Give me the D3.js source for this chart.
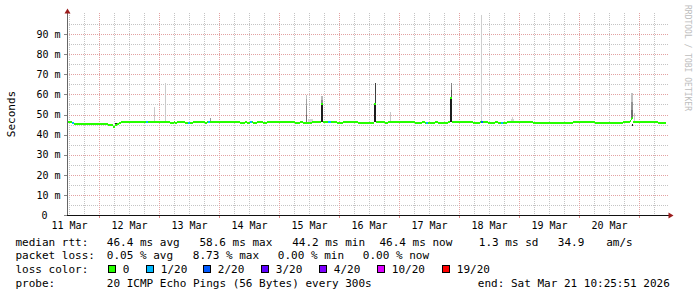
<!DOCTYPE html>
<html>
<head>
<meta charset="utf-8">
<script src="https://cdn.jsdelivr.net/npm/d3@7/dist/d3.min.js"></script>
<style>
  body { margin: 0; background: #fff; }
  svg text { font-family: "DejaVu Sans Mono", monospace; fill: #000; }
</style>
</head>
<body>
<div id="chart"></div>
<script>

// ---- data (hours are counted from the left edge of the graph) ----
const startTime = Date.UTC(2026, 2, 11, 11, 12);
const windowHours = 240;

const yTicks = [0, 10, 20, 30, 40, 50, 60, 70, 80, 90];

// median rtt: [fromHour, toHour, ms]
const medianSegments = [
	[0, 2, 46.3], [2, 2.8, 45.8], [2.8, 16.4, 45.2], [16.4, 18.4, 44.6],
	[18.4, 19.2, 44.0], [19.2, 20, 44.8], [20, 20.8, 45.4], [20.8, 21.6, 45.9],
	[21.6, 41.2, 46.4], [41.2, 42.8, 45.9], [42.8, 43.2, 46.4], [43.2, 44, 45.9],
	[44, 47.2, 46.4], [47.2, 50.4, 45.9], [50.4, 55.2, 46.4], [55.2, 56, 45.9],
	[56, 69.2, 46.4], [69.2, 71.2, 45.9], [71.2, 72, 46.4], [72, 73.2, 45.9],
	[73.2, 74.4, 46.4], [74.4, 76, 45.9], [76, 78.4, 46.4], [78.4, 80, 45.9],
	[80, 91.2, 46.4], [91.2, 93.2, 45.9], [93.2, 94.4, 46.4], [94.4, 98, 45.9],
	[98, 101.6, 46.4], [101.6, 102.4, 55.0], [102.4, 108, 46.4], [108, 110.4, 45.9],
	[110.4, 116.4, 46.4], [116.4, 122.8, 45.9], [122.8, 123.6, 55.0], [123.6, 127.2, 46.4],
	[127.2, 128.4, 45.9], [128.4, 139.2, 46.4], [139.2, 142, 45.9], [142, 143.2, 46.4],
	[143.2, 147.2, 45.9], [147.2, 148.4, 46.4], [148.4, 152.4, 45.9], [152.4, 153.2, 46.4],
	[153.2, 154, 58.4], [154, 162.4, 46.4], [162.4, 165.2, 45.9], [165.2, 168.4, 46.4],
	[168.4, 171.2, 45.9], [171.2, 172.4, 46.4], [172.4, 176, 45.9], [176, 186.4, 46.4],
	[186.4, 202.4, 45.9], [202.4, 211.2, 46.4], [211.2, 222.4, 45.9], [222.4, 225.2, 46.4],
	[225.2, 225.6, 47.0], [225.6, 226, 47.9], [226, 226.4, 48.4], [226.4, 236.4, 46.4],
	[236.4, 239.5, 45.9]
];

// packet loss (index into lossColors): [fromHour, toHour, level]
const lossSegments = [
	[2, 2.8, 1], [31.6, 32.4, 1], [48.4, 49, 1], [56.4, 57.2, 1], [73.2, 74, 1],
	[104.4, 105.6, 1], [143.6, 144.4, 1], [165.6, 166.4, 2], [173.6, 174.2, 1]
];

// smoke (ping spread): [fromHour, toHour, lowMs, highMs, density 0..1]
const smokeBands = [
	[19.2, 20.4, 45.0, 46.0, 0.95],
	[34.6, 35.0, 46.4, 53.9, 0.1],
	[39.0, 39.4, 46.4, 65.8, 0.1],
	[57.0, 57.4, 46.4, 48.2, 0.35],
	[95.4, 95.8, 46.4, 50.0, 0.55], [95.4, 95.8, 50.0, 54.0, 0.42],
	[95.4, 95.8, 54.0, 57.5, 0.3], [95.4, 95.8, 57.5, 59.7, 0.15],
	[96.4, 98.4, 46.4, 47.8, 0.05],
	[101.6, 102.4, 46.4, 54.5, 0.97], [101.6, 102.4, 55.5, 57.0, 0.4], [101.6, 102.4, 57.0, 59.3, 0.18],
	[122.8, 123.6, 46.4, 54.5, 0.97], [123.2, 123.6, 55.5, 65.5, 0.8],
	[129.0, 129.4, 46.4, 51.0, 0.12],
	[153.2, 154.0, 46.4, 57.9, 0.97], [153.6, 154.0, 58.9, 62.0, 0.7], [153.6, 154.0, 62.0, 65.5, 0.45],
	[165.6, 166.0, 46.4, 99.5, 0.08],
	[177.6, 178.0, 46.4, 47.6, 0.06], [178.0, 178.4, 46.4, 48.8, 0.06], [178.4, 178.8, 46.4, 48.0, 0.06],
	[202.0, 202.4, 45.4, 46.0, 0.95],
	[225.6, 226.4, 48.4, 52.0, 0.55], [225.6, 226.4, 52.0, 56.0, 0.38], [225.6, 226.4, 56.0, 60.5, 0.15],
	[226.0, 226.4, 44.4, 45.4, 0.95],
	[226.8, 227.2, 46.4, 50.7, 0.08]
];

const lossColors = ["#26ff00", "#00b8ff", "#0059ff", "#5e00ff", "#7e00ff", "#dd00ff", "#ff0000"];
const lossLabels = ["0", "1/20", "2/20", "3/20", "4/20", "10/20", "19/20"];

const rttTexts = ["median rtt:", "46.4 ms avg", "58.6 ms max", "44.2 ms min", "46.4 ms now", "1.3 ms sd", "34.9", "am/s"];
const lossTexts = ["packet loss:", "0.05 % avg", "8.73 % max", "0.00 % min", "0.00 % now"];
const probeTexts = ["probe:", "20 ICMP Echo Pings (56 Bytes) every 300s", "end: Sat Mar 21 10:25:51 2026"];


SmokeGraph = function(_parentElement) {
	this.parentElement = _parentElement;
	this.initVis();
}

SmokeGraph.prototype.initVis = function() {
	var vis = this;

	vis.left = 67;
	vis.right = 667;
	vis.top = 13;
	vis.bottom = 215;

	vis.svg = d3.select("#" + vis.parentElement).append("svg")
		.attr("width", 697)
		.attr("height", 297)
		.style("display", "block");

	vis.svg.append("rect").attr("width", 697).attr("height", 297).attr("fill", "#fff");

	vis.hourDate = h => new Date(startTime + h * 3600e3);

	vis.x = d3.scaleUtc()
		.domain([vis.hourDate(0), vis.hourDate(windowHours)])
		.range([vis.left, vis.right]);
	vis.y = d3.scaleLinear().domain([0, 100]).range([vis.bottom, 14]);

	vis.smokeColor = d3.scaleLinear().domain([0, 1]).range(["#dedede", "#161616"]);

	vis.drawGrid();
	vis.updateVis();
	vis.drawLegend();
}

SmokeGraph.prototype.drawGrid = function() {
	var vis = this;
	const [t0, t1] = vis.x.domain();

	const days = d3.utcDay.range(d3.utcDay.ceil(t0), t1);
	const sixHours = d3.utcHour.every(6).range(t0, t1).filter(d => d.getUTCHours() !== 0);
	const noons = d3.utcDay.range(d3.utcDay.floor(t0), t1)
		.map(d => d3.utcHour.offset(d, 12))
		.filter(d => d >= t0 && d <= t1);

	// horizontal grid
	const minorY = d3.range(5, 100, 5).filter(v => v % 10 !== 0);
	const majorY = yTicks.filter(v => v > 0);

	const grid = vis.svg.append("g").attr("shape-rendering", "crispEdges");

	grid.selectAll(".hminor").data(minorY).join("line")
		.attr("x1", vis.left).attr("x2", vis.right + 1)
		.attr("y1", d => Math.round(vis.y(d)) + 0.5).attr("y2", d => Math.round(vis.y(d)) + 0.5)
		.attr("stroke", "#c4c4c4").attr("stroke-dasharray", "1,1");

	grid.selectAll(".vminor").data(sixHours).join("line")
		.attr("x1", d => Math.round(vis.x(d)) + 0.5).attr("x2", d => Math.round(vis.x(d)) + 0.5)
		.attr("y1", vis.top).attr("y2", vis.bottom)
		.attr("stroke", "#c4c4c4").attr("stroke-dasharray", "1,1");

	grid.selectAll(".hmajor").data(majorY).join("line")
		.attr("x1", vis.left).attr("x2", vis.right + 1)
		.attr("y1", d => Math.round(vis.y(d)) + 0.5).attr("y2", d => Math.round(vis.y(d)) + 0.5)
		.attr("stroke", "#e2a2a2").attr("stroke-dasharray", "1,1");

	grid.selectAll(".vmajor").data(days).join("line")
		.attr("x1", d => Math.round(vis.x(d)) + 0.5).attr("x2", d => Math.round(vis.x(d)) + 0.5)
		.attr("y1", vis.top).attr("y2", vis.bottom)
		.attr("stroke", "#e2a2a2").attr("stroke-dasharray", "1,1");

	// y axis labels
	vis.yAxis = d3.axisLeft(vis.y)
		.tickValues(yTicks)
		.tickSize(3)
		.tickPadding(3.5)
		.tickFormat(d => d === 0 ? "0" : d + " m");

	const ya = vis.svg.append("g")
		.attr("class", "axis y-axis")
		.attr("transform", "translate(" + vis.left + ",0)")
		.call(vis.yAxis);
	ya.select(".domain").remove();
	ya.selectAll("line").attr("stroke", "#888").attr("shape-rendering", "crispEdges");
	ya.selectAll("text")
		.style("font-size", "10px")
		.attr("x", d => d === 0 ? -19.5 : -6.5);

	// x axis labels at midday
	vis.xAxis = d3.axisBottom(vis.x)
		.tickValues(noons)
		.tickSize(0)
		.tickPadding(6.4)
		.tickFormat(d3.utcFormat("%d %b"));

	const xa = vis.svg.append("g")
		.attr("class", "axis x-axis")
		.attr("transform", "translate(0," + vis.bottom + ")")
		.call(vis.xAxis);
	xa.select(".domain").remove();
	xa.selectAll("text").style("font-size", "10px");

	// small day ticks under the axis
	vis.svg.append("g").selectAll("line").data(days).join("line")
		.attr("x1", d => Math.round(vis.x(d)) + 0.5).attr("x2", d => Math.round(vis.x(d)) + 0.5)
		.attr("y1", vis.bottom).attr("y2", vis.bottom + 3)
		.attr("stroke", "#d88").attr("shape-rendering", "crispEdges");

	vis.svg.append("text")
		.attr("transform", "translate(15,114) rotate(-90)")
		.attr("text-anchor", "middle")
		.style("font-size", "11px")
		.text("Seconds");

	vis.svg.append("text")
		.attr("transform", "translate(684.5,5) rotate(90)")
		.style("font-size", "8px")
		.style("fill", "#bdbdbd")
		.text("RRDTOOL / TOBI OETIKER");
}

SmokeGraph.prototype.medianAt = function(h) {
	const seg = medianSegments.find(s => h >= s[0] && h < s[1]);
	return seg ? seg[2] : medianSegments[medianSegments.length - 1][2];
}

SmokeGraph.prototype.updateVis = function() {
	var vis = this;
	const px = h => vis.x(vis.hourDate(h));

	const marks = vis.svg.append("g").attr("shape-rendering", "crispEdges");

	// smoke
	marks.selectAll(".smoke").data(smokeBands).join("rect")
		.attr("class", "smoke")
		.attr("x", d => px(d[0]))
		.attr("width", d => px(d[1]) - px(d[0]))
		.attr("y", d => vis.y(d[3]))
		.attr("height", d => vis.y(d[2]) - vis.y(d[3]))
		.attr("fill", d => vis.smokeColor(d[4]));

	// median, 2px band
	marks.selectAll(".median").data(medianSegments).join("rect")
		.attr("class", "median")
		.attr("x", d => px(d[0]))
		.attr("width", d => px(d[1]) - px(d[0]))
		.attr("y", d => vis.y(d[2]) - 1)
		.attr("height", 2)
		.attr("fill", lossColors[0]);

	// loss coloured parts of the median
	marks.selectAll(".loss").data(lossSegments).join("rect")
		.attr("class", "loss")
		.attr("x", d => px(d[0]))
		.attr("width", d => px(d[1]) - px(d[0]))
		.attr("y", d => vis.y(vis.medianAt((d[0] + d[1]) / 2)) - 1)
		.attr("height", 2)
		.attr("fill", d => lossColors[d[2]]);

	// axes with arrows
	vis.svg.append("line")
		.attr("x1", vis.left + 0.5).attr("x2", vis.left + 0.5)
		.attr("y1", vis.bottom + 0.5).attr("y2", 11)
		.attr("stroke", "#666").attr("shape-rendering", "crispEdges");
	vis.svg.append("line")
		.attr("x1", vis.left).attr("x2", vis.right + 2)
		.attr("y1", vis.bottom + 0.5).attr("y2", vis.bottom + 0.5)
		.attr("stroke", "#111").attr("shape-rendering", "crispEdges");
	vis.svg.append("path")
		.attr("d", "M" + (vis.left - 2.5) + ",13.5L" + (vis.left + 0.5) + ",8.5L" + (vis.left + 3.5) + ",13.5Z")
		.attr("fill", "#9b1c1c");
	vis.svg.append("path")
		.attr("d", "M" + (vis.right + 1.5) + "," + (vis.bottom - 2.5) + "L" + (vis.right + 6.5) + "," + (vis.bottom + 0.5) + "L" + (vis.right + 1.5) + "," + (vis.bottom + 3.5) + "Z")
		.attr("fill", "#9b1c1c");
}

SmokeGraph.prototype.drawLegend = function() {
	var vis = this;
	const rowY = [245.5, 259.2, 272.8, 286.5];
	const lg = vis.svg.append("g").style("font-size", "11px");

	const rttX = [15.5, 106.8, 199.5, 292.2, 379.5, 478.8, 557.8, 606.2];
	const lossX = [15.5, 106.8, 192.8, 277.8, 362.8];
	const probeX = [15.5, 106.8, 477.8];

	const row = (texts, xs, y) => lg.append("g").selectAll("text").data(texts).join("text")
		.attr("x", (d, i) => xs[i]).attr("y", y).text(d => d);

	row(rttTexts, rttX, rowY[0]);
	row(lossTexts, lossX, rowY[1]);
	row(probeTexts, probeX, rowY[3]);

	lg.append("text").attr("x", 15.5).attr("y", rowY[2]).text("loss color:");

	const boxX = [108.5, 146.5, 203.5, 261.5, 319.5, 377.5, 442.5];
	lg.selectAll(".lbox").data(lossColors).join("rect")
		.attr("x", (d, i) => boxX[i]).attr("y", 265.5)
		.attr("width", 7).attr("height", 7)
		.attr("fill", d => d).attr("stroke", "#000")
		.attr("shape-rendering", "crispEdges");
	lg.selectAll(".ltext").data(lossLabels).join("text")
		.attr("x", (d, i) => boxX[i] + 14.3).attr("y", rowY[2]).text(d => d);
}

new SmokeGraph("chart");
</script>
</body>
</html>
